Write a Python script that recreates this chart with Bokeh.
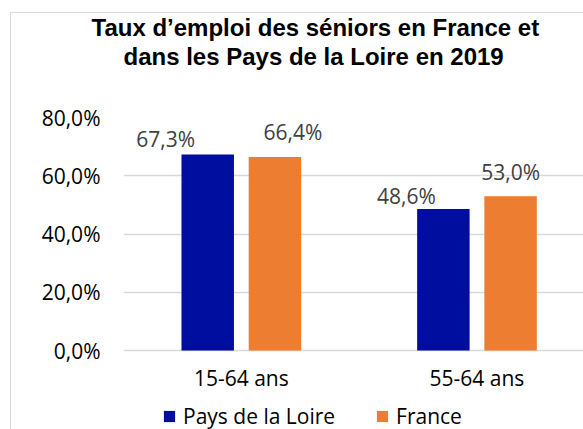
from bokeh.plotting import figure
from bokeh.models import ColumnDataSource, Range1d, FixedTicker, Legend, LegendItem, Title
from bokeh.transform import dodge
from bokeh.core.properties import value
from bokeh.embed import file_html
from bokeh.resources import INLINE

# ---- data ----
categories = ["15-64 ans", "55-64 ans"]
series_names = ["Pays de la Loire", "France"]
pays_de_la_loire = [67.3, 48.6]
france = [66.4, 53.0]
y_ticks = [0, 20, 40, 60, 80]
y_tick_labels = ["0,0%", "20,0%", "40,0%", "60,0%", "80,0%"]
title_line1 = "Taux d’emploi des séniors en France et"
title_line2 = "dans les Pays de la Loire en 2019"

# manually moved data labels (pixel offsets from bar top centre)
pdl_label_dx = [-42, -37]
pdl_label_dy = [7, 5]
fr_label_dx = [18, 0]
fr_label_dy = [17, 16]
BASE_SHIFT = 8

BLUE = "#000E9F"
ORANGE = "#ED7D31"
FONT = "Open Sans"

def fmt(v):
    return f"{v:.1f}".replace(".", ",") + "%"

xs = [i + 0.5 for i in range(len(categories))]
src = ColumnDataSource(dict(
    x=xs, pdl=pays_de_la_loire, fr=france,
    pdl_txt=[fmt(v) for v in pays_de_la_loire],
    fr_txt=[fmt(v) for v in france],
    pdl_dx=pdl_label_dx, pdl_dy=[-(d + BASE_SHIFT) for d in pdl_label_dy],
    fr_dx=fr_label_dx, fr_dy=[-(d + BASE_SHIFT) for d in fr_label_dy],
))

p = figure(width=583, height=429, output_backend="svg", toolbar_location=None, title=None,
           x_range=Range1d(0, 1.952), y_range=Range1d(-27.1, 80),
           min_border_left=123, min_border_right=0, min_border_top=117, min_border_bottom=0,
           border_fill_alpha=0,
           styles={"background": "linear-gradient(#d9d9d9,#d9d9d9) 10px 12px / 1px 100% no-repeat, "
                                 "linear-gradient(#d9d9d9,#d9d9d9) 10px 12px / 100% 1px no-repeat, white"})
p.outline_line_color = None
p.background_fill_color = "white"

off = 0.1426
bw = 0.2227
r1 = p.vbar(x=dodge("x", -off, range=p.x_range), top="pdl", width=bw, bottom=0,
            source=src, fill_color=BLUE, line_color=None)
r2 = p.vbar(x=dodge("x", off, range=p.x_range), top="fr", width=bw, bottom=0,
            source=src, fill_color=ORANGE, line_color=None)

p.text(x=dodge("x", -off, range=p.x_range), y="pdl", text="pdl_txt", source=src,
       x_offset="pdl_dx", y_offset="pdl_dy", text_align="center", text_baseline="alphabetic",
       text_font=value(FONT), text_font_size="21px", text_color="#404040")
p.text(x=dodge("x", off, range=p.x_range), y="fr", text="fr_txt", source=src,
       x_offset="fr_dx", y_offset="fr_dy", text_align="center", text_baseline="alphabetic",
       text_font=value(FONT), text_font_size="21px", text_color="#404040")

# axes
p.xaxis.fixed_location = 0
p.xaxis.ticker = FixedTicker(ticks=xs)
p.xaxis.major_label_overrides = {x: c for x, c in zip(xs, categories)}
p.yaxis.ticker = FixedTicker(ticks=y_ticks)
p.yaxis.major_label_overrides = {t: l for t, l in zip(y_ticks, y_tick_labels)}
for ax in (p.xaxis, p.yaxis):
    ax.axis_line_color = None
    ax.major_tick_line_color = None
    ax.minor_tick_line_color = None
    ax.major_tick_out = 0
    ax.major_tick_in = 0
    ax.major_label_text_font = FONT
    ax.major_label_text_font_size = "21px"
    ax.major_label_text_color = "#000000"
p.yaxis.major_label_standoff = 23
p.xaxis.major_label_standoff = 13

p.xgrid.visible = False
p.ygrid.ticker = FixedTicker(ticks=y_ticks)
p.ygrid.grid_line_color = "#d9d9d9"
p.ygrid.grid_line_width = 1.5

# title: spacer next to the frame, then line 2, then line 1
p.add_layout(Title(text=" ", text_font_size="2px", standoff=44), "above")
p.add_layout(Title(text=title_line2, align="left", offset=0,
                   text_font="Liberation Sans", text_font_style="bold",
                   text_font_size="24px", text_color="#000000", standoff=0), "above")
p.add_layout(Title(text=title_line1, align="left", offset=-32,
                   text_font="Liberation Sans", text_font_style="bold",
                   text_font_size="24px", text_color="#000000", standoff=0), "above")

# legend
legend = Legend(items=[LegendItem(label=series_names[0], renderers=[r1]),
                       LegendItem(label=series_names[1], renderers=[r2])],
                orientation="horizontal", location=(39, -1),
                glyph_width=14, glyph_height=14, label_standoff=7, spacing=40,
                padding=0, margin=0, border_line_color=None, background_fill_alpha=0,
                label_text_font=FONT, label_text_font_size="21px", label_text_color="#000000")
p.add_layout(legend, "center")

open("out.html", "w").write(file_html(p, INLINE))
